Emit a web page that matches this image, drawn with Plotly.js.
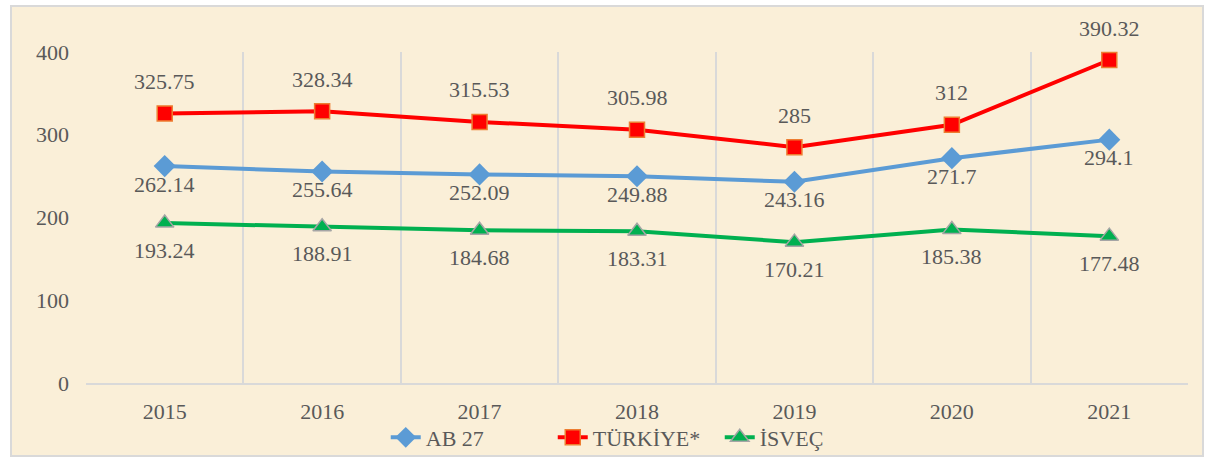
<!DOCTYPE html>
<html><head><meta charset="utf-8">
<script src="https://cdn.plot.ly/plotly-3.0.1.min.js"></script>
<style>html,body{margin:0;padding:0;background:#fff;}#frame{position:absolute;left:10px;top:5px;width:1194px;height:452px;border:2px solid #d9d9d9;box-sizing:border-box;background:#faefd8;}#chart{position:absolute;left:0;top:0;width:1214px;height:463px;}</style>
</head><body>
<div id="frame"></div>
<div id="chart"></div>
<script>
var years = ['2015','2016','2017','2018','2019','2020','2021'];
var ab27 = [262.14, 255.64, 252.09, 249.88, 243.16, 271.7, 294.1];
var turkiye = [325.75, 328.34, 315.53, 305.98, 285, 312, 390.32];
var isvec = [193.24, 188.91, 184.68, 183.31, 170.21, 185.38, 177.48];
var names = ['AB 27', 'TÜRKİYE*', 'İSVEÇ'];

var idx = years.map(function(_, i){ return i; });
var labelFont = {family: '"Liberation Serif", "Times New Roman", serif', size: 22, color: '#595959'};

var traces = [
  {x: idx, y: ab27, name: names[0], mode: 'lines+markers', type: 'scatter', cliponaxis: false,
   line: {color: '#5b9bd5', width: 4}, marker: {symbol: 'diamond', size: 17, color: '#5b9bd5'}},
  {x: idx, y: turkiye, name: names[1], mode: 'lines+markers', type: 'scatter', cliponaxis: false,
   line: {color: '#ff0000', width: 4}, marker: {symbol: 'square', size: 15, color: '#ff0000', line: {color: '#ed7d31', width: 1.5}}},
  {x: idx, y: isvec, name: names[2], mode: 'lines+markers', type: 'scatter', cliponaxis: false,
   line: {color: '#00b050', width: 4}, marker: {symbol: 'triangle-up', size: 16, color: '#00b050', line: {color: '#a5a5a5', width: 1.5}}},
  {x: [-0.5, 6.5], y: [null, null], xaxis: 'x2', showlegend: false, hoverinfo: 'skip', mode: 'lines'}
];

var annotations = [];
function addLabels(vals, shift){
  vals.forEach(function(v, i){
    annotations.push({x: i, y: v, xref: 'x', yref: 'y', text: String(v), showarrow: false,
      font: labelFont, yshift: shift, xanchor: 'center', yanchor: 'middle'});
  });
}
addLabels(ab27, -18);
addLabels(turkiye, 32);
addLabels(isvec, -27);

var bounds = [];
for (var i = 0; i <= years.length; i++) bounds.push(i - 0.5);

var layout = {
  width: 1214, height: 463,
  paper_bgcolor: 'rgba(0,0,0,0)', plot_bgcolor: 'rgba(0,0,0,0)',
  margin: {l: 86, r: 26, t: 52, b: 80, autoexpand: false},
  font: labelFont,
  annotations: annotations,
  xaxis: {range: [-0.5, 6.5], tickvals: idx, ticktext: years, showgrid: false, zeroline: false,
          showline: true, linecolor: '#d9d9d9', linewidth: 2, ticks: '', ticklabelstandoff: 8,
          tickfont: labelFont, fixedrange: true},
  xaxis2: {overlaying: 'x', range: [-0.5, 6.5], tickvals: bounds, showticklabels: false, showgrid: true,
           gridcolor: '#d9d9d9', gridwidth: 2, zeroline: false, showline: false, ticks: ''},
  yaxis: {range: [0, 400], tickvals: [0, 100, 200, 300, 400], showgrid: false, zeroline: false,
          showline: false, ticks: '', ticklabelstandoff: 16, tickfont: labelFont},
  legend: {orientation: 'h', x: 0.272, xanchor: 'left', yref: 'container', y: 0.055, yanchor: 'middle', font: labelFont,
           bgcolor: 'rgba(0,0,0,0)', tracegroupgap: 0, entrywidthmode: 'pixels', entrywidth: 122}
};
Plotly.newPlot('chart', traces, layout, {displayModeBar: false, staticPlot: true});
</script>
</body></html>
